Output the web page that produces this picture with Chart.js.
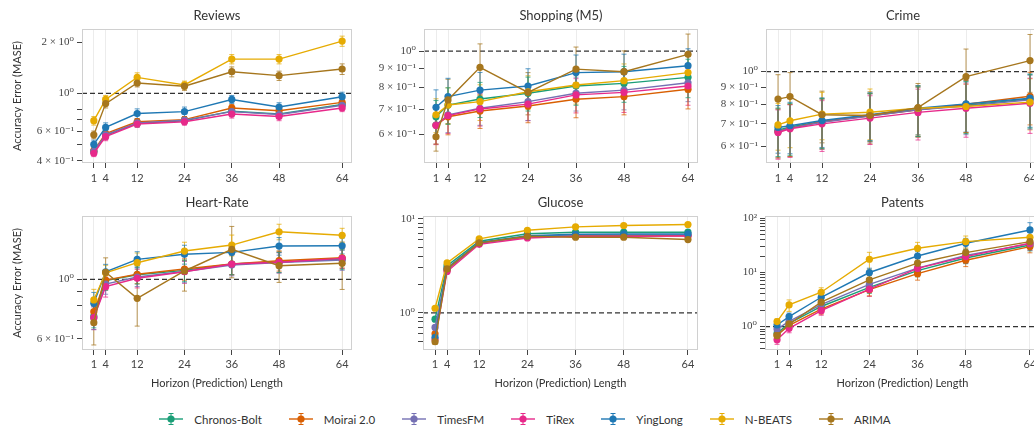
<!DOCTYPE html>
<html>
<head>
<meta charset="utf-8">
<script src="https://cdn.jsdelivr.net/npm/chart.js@4.4.1/dist/chart.umd.min.js"></script>
<style>
  html, body { margin: 0; padding: 0; background: #fff; width: 1034px; height: 428px; overflow: hidden; }
  .panel { position: absolute; }
  #legend { position: absolute; left: 0; top: 412px; width: 1050px; display: flex; justify-content: center; gap: 27px;
            font-family: Lato, "Open Sans", sans-serif; font-size: 11.5px; color: #333; }
  .item { display: flex; align-items: center; gap: 11px; }
</style>
</head>
<body>
<div class="panel" style="left:0;top:0"><canvas id="c0" width="356" height="190"></canvas></div>
<div class="panel" style="left:356px;top:0"><canvas id="c1" width="346" height="190"></canvas></div>
<div class="panel" style="left:702px;top:0"><canvas id="c2" width="342" height="190"></canvas></div>
<div class="panel" style="left:0;top:190px"><canvas id="c3" width="356" height="205"></canvas></div>
<div class="panel" style="left:356px;top:190px"><canvas id="c4" width="346" height="205"></canvas></div>
<div class="panel" style="left:702px;top:190px"><canvas id="c5" width="342" height="205"></canvas></div>
<div id="legend"></div>

<script>
const horizons = [1, 4, 12, 24, 36, 48, 64];
const models = ["Chronos-Bolt", "Moirai 2.0", "TimesFM", "TiRex", "YingLong", "N-BEATS", "ARIMA"];
const modelColors = ["#1b9e77", "#d95f02", "#7570b3", "#e7298a", "#1f78b4", "#e6ab02", "#a6761d"];

// MASE per model (rows follow models), one row per horizon list
const reviewsMase = [
  [0.455, 0.565, 0.665, 0.69, 0.785, 0.755, 0.86],
  [0.46, 0.58, 0.68, 0.70, 0.82, 0.79, 0.885],
  [0.455, 0.57, 0.67, 0.695, 0.78, 0.75, 0.85],
  [0.444, 0.556, 0.66, 0.68, 0.755, 0.73, 0.82],
  [0.50, 0.63, 0.76, 0.78, 0.92, 0.83, 0.955],
  [0.69, 0.92, 1.24, 1.12, 1.59, 1.59, 2.03],
  [0.57, 0.87, 1.15, 1.10, 1.34, 1.27, 1.39]
];
const reviewsErr = [
  [0.02, 0.03, 0.03, 0.03, 0.04, 0.04, 0.04],
  [0.02, 0.03, 0.03, 0.03, 0.04, 0.04, 0.04],
  [0.02, 0.03, 0.03, 0.03, 0.04, 0.04, 0.04],
  [0.02, 0.03, 0.03, 0.03, 0.04, 0.04, 0.04],
  [0.03, 0.04, 0.05, 0.05, 0.05, 0.05, 0.06],
  [0.04, 0.05, 0.08, 0.06, 0.10, 0.10, 0.14],
  [0.03, 0.05, 0.06, 0.06, 0.09, 0.08, 0.10]
];

const shoppingMase = [
  [0.668, 0.718, 0.745, 0.772, 0.807, 0.820, 0.851],
  [0.635, 0.668, 0.692, 0.714, 0.744, 0.756, 0.791],
  [0.635, 0.676, 0.704, 0.733, 0.772, 0.787, 0.823],
  [0.633, 0.673, 0.701, 0.722, 0.764, 0.776, 0.807],
  [0.708, 0.756, 0.787, 0.807, 0.876, 0.881, 0.914],
  [0.676, 0.718, 0.733, 0.779, 0.812, 0.834, 0.876],
  [0.591, 0.741, 0.905, 0.776, 0.895, 0.881, 0.98]
];
const shoppingErr = [
  [0.07, 0.08, 0.08, 0.08, 0.09, 0.09, 0.10],
  [0.07, 0.07, 0.07, 0.07, 0.08, 0.08, 0.09],
  [0.07, 0.07, 0.07, 0.08, 0.08, 0.09, 0.09],
  [0.07, 0.07, 0.07, 0.07, 0.08, 0.09, 0.09],
  [0.08, 0.09, 0.09, 0.09, 0.10, 0.10, 0.10],
  [0.07, 0.08, 0.08, 0.08, 0.09, 0.09, 0.10],
  [0.05, 0.10, 0.14, 0.10, 0.13, 0.12, 0.13]
];

const crimeMase = [
  [0.67, 0.685, 0.712, 0.742, 0.772, 0.795, 0.83],
  [0.665, 0.68, 0.71, 0.74, 0.77, 0.80, 0.845],
  [0.665, 0.68, 0.708, 0.738, 0.77, 0.79, 0.825],
  [0.66, 0.677, 0.70, 0.728, 0.757, 0.779, 0.806],
  [0.683, 0.691, 0.716, 0.745, 0.779, 0.802, 0.834],
  [0.695, 0.715, 0.748, 0.758, 0.779, 0.788, 0.812],
  [0.829, 0.843, 0.745, 0.741, 0.782, 0.966, 1.078]
];
const crimeErr = [
  [0.11, 0.12, 0.12, 0.12, 0.13, 0.14, 0.15],
  [0.11, 0.12, 0.12, 0.12, 0.13, 0.14, 0.15],
  [0.11, 0.12, 0.12, 0.12, 0.13, 0.14, 0.15],
  [0.11, 0.12, 0.12, 0.12, 0.13, 0.14, 0.15],
  [0.11, 0.12, 0.12, 0.12, 0.13, 0.14, 0.15],
  [0.11, 0.12, 0.12, 0.13, 0.13, 0.13, 0.14],
  [0.15, 0.15, 0.13, 0.13, 0.14, 0.20, 0.21]
];

const heartMase = [
  [0.73, 0.99, 1.04, 1.08, 1.14, 1.16, 1.19],
  [0.758, 0.994, 1.044, 1.092, 1.14, 1.173, 1.203],
  [0.72, 0.96, 1.02, 1.07, 1.13, 1.155, 1.18],
  [0.72, 0.939, 1.009, 1.067, 1.14, 1.157, 1.197],
  [0.814, 1.067, 1.187, 1.239, 1.26, 1.33, 1.333],
  [0.838, 1.058, 1.153, 1.274, 1.341, 1.503, 1.458],
  [0.69, 1.062, 0.85, 1.074, 1.293, 1.124, 1.147]
];
const heartErr = [
  [0.07, 0.08, 0.08, 0.10, 0.10, 0.10, 0.10],
  [0.07, 0.08, 0.08, 0.10, 0.10, 0.10, 0.10],
  [0.07, 0.08, 0.08, 0.10, 0.10, 0.10, 0.10],
  [0.07, 0.08, 0.08, 0.10, 0.10, 0.10, 0.10],
  [0.08, 0.07, 0.08, 0.10, 0.10, 0.10, 0.09],
  [0.08, 0.07, 0.10, 0.10, 0.12, 0.10, 0.09],
  [0.12, 0.14, 0.18, 0.17, 0.28, 0.15, 0.23]
];

const glucoseMase = [
  [0.857, 3.17, 5.77, 6.92, 7.2, 7.2, 7.2],
  [0.60, 2.85, 5.5, 6.4, 6.6, 6.6, 6.6],
  [0.70, 2.9, 5.5, 6.5, 6.75, 6.75, 6.75],
  [0.52, 2.75, 5.35, 6.25, 6.5, 6.5, 6.55],
  [0.55, 3.0, 5.6, 6.6, 6.85, 6.9, 6.9],
  [1.12, 3.39, 6.11, 7.55, 8.2, 8.48, 8.69],
  [0.494, 2.93, 5.54, 6.52, 6.37, 6.37, 6.01]
];
const glucoseErr = [
  [0.03, 0.08, 0.10, 0.10, 0.10, 0.10, 0.10],
  [0.03, 0.08, 0.10, 0.10, 0.10, 0.10, 0.10],
  [0.03, 0.08, 0.10, 0.10, 0.10, 0.10, 0.10],
  [0.03, 0.08, 0.10, 0.10, 0.10, 0.10, 0.10],
  [0.03, 0.08, 0.10, 0.10, 0.10, 0.10, 0.10],
  [0.03, 0.08, 0.10, 0.10, 0.10, 0.10, 0.10],
  [0.03, 0.08, 0.10, 0.10, 0.10, 0.10, 0.10]
];

const patentsMase = [
  [0.75, 1.15, 2.35, 5.3, 10.8, 18.5, 32],
  [0.70, 1.05, 2.1, 4.8, 9.5, 16.8, 30],
  [0.90, 1.25, 2.55, 6.0, 12.0, 20.5, 34],
  [0.57, 0.93, 1.97, 4.9, 11.9, 19.6, 34.5],
  [1.07, 1.53, 3.48, 9.96, 20.1, 34.5, 60.8],
  [1.24, 2.51, 4.31, 17.5, 27.9, 37, 44.6],
  [0.68, 1.12, 2.82, 7.27, 14.8, 23.2, 37]
];
const patentsErr = [
  [0.12, 0.2, 0.4, 1.2, 2.5, 4, 7],
  [0.12, 0.2, 0.4, 1.1, 2.3, 4, 7],
  [0.14, 0.2, 0.4, 1.3, 2.6, 4.5, 7],
  [0.10, 0.16, 0.35, 1.3, 3, 5, 9],
  [0.15, 0.25, 0.5, 2, 4, 8, 22],
  [0.15, 0.6, 0.9, 6, 8, 10, 10],
  [0.10, 0.2, 0.4, 1.5, 3, 5, 8]
];

// y tick values and labels (labelled) plus unlabelled minor marks
const reviewsTicks = [2, 1, 0.6, 0.4];
const reviewsTickLabels = ["2 × 10⁰", "10⁰", "6 × 10⁻¹", "4 × 10⁻¹"];
const reviewsMinor = [0.5, 0.7, 0.8];
const decTicks = [1, 0.9, 0.8, 0.7, 0.6];
const decTickLabels = ["10⁰", "9 × 10⁻¹", "8 × 10⁻¹", "7 × 10⁻¹", "6 × 10⁻¹"];
const heartTicks = [1, 0.6];
const heartTickLabels = ["10⁰", "6 × 10⁻¹"];
const heartMinor = [0.7, 0.8, 0.9];
const glucoseTicks = [10, 1];
const glucoseTickLabels = ["10¹", "10⁰"];
const glucoseMinor = [0.5, 0.6, 0.7, 0.8, 0.9, 2, 3, 4, 5, 6, 7, 8, 9];
const patentsTicks = [100, 10, 1];
const patentsTickLabels = ["10²", "10¹", "10⁰"];
const patentsMinor = [0.4, 0.5, 0.6, 0.7, 0.8, 0.9, 2, 3, 4, 5, 6, 7, 8, 9, 20, 30, 40, 50, 60, 70, 80, 90];

const SANS = "Lato, 'Open Sans', sans-serif";
const SERIF = "'Liberation Serif', 'DejaVu Serif', serif";

const panels = [
  { id: "c0", title: "Reviews", mase: reviewsMase, err: reviewsErr, min: 0.389, max: 2.39,
    ticks: reviewsTicks, labels: reviewsTickLabels, minor: reviewsMinor, yW: 82, row: 0, yTitle: true },
  { id: "c1", title: "Shopping (M5)", mase: shoppingMase, err: shoppingErr, min: 0.503, max: 1.145,
    ticks: decTicks, labels: decTickLabels, minor: [], yW: 68, row: 0 },
  { id: "c2", title: "Crime", mase: crimeMase, err: crimeErr, min: 0.536, max: 1.337,
    ticks: decTicks, labels: decTickLabels, minor: [], yW: 64, row: 0 },
  { id: "c3", title: "Heart-Rate", mase: heartMase, err: heartErr, min: 0.546, max: 1.72,
    ticks: heartTicks, labels: heartTickLabels, minor: heartMinor, yW: 82, row: 1, yTitle: true },
  { id: "c4", title: "Glucose", mase: glucoseMase, err: glucoseErr, min: 0.403, max: 10.7,
    ticks: glucoseTicks, labels: glucoseTickLabels, minor: glucoseMinor, yW: 67, row: 1 },
  { id: "c5", title: "Patents", mase: patentsMase, err: patentsErr, min: 0.37, max: 110,
    ticks: patentsTicks, labels: patentsTickLabels, minor: patentsMinor, yW: 63, row: 1 }
];

// dashed reference line, error bars and the box around each plot
const extras = {
  id: "extras",
  beforeDatasetsDraw(chart) {
    const { ctx, chartArea: a, scales: { x, y } } = chart;
    ctx.save();
    ctx.beginPath();
    ctx.rect(a.left, a.top, a.right - a.left, a.bottom - a.top);
    ctx.clip();

    const yy = y.getPixelForValue(1);
    ctx.strokeStyle = "#333";
    ctx.lineWidth = 1.3;
    ctx.setLineDash([5, 3]);
    ctx.beginPath();
    ctx.moveTo(a.left, yy);
    ctx.lineTo(a.right, yy);
    ctx.stroke();
    ctx.setLineDash([]);

    for (let i = chart.data.datasets.length - 1; i >= 0; i--) {
      const ds = chart.data.datasets[i];
      ctx.strokeStyle = ds.borderColor;
      ctx.globalAlpha = 0.75;
      ctx.lineWidth = 1;
      ds.data.forEach((p, j) => {
        const e = ds.err[j];
        const px = x.getPixelForValue(p.x);
        const lo = y.getPixelForValue(Math.max(p.y - e, 1e-3));
        const hi = y.getPixelForValue(p.y + e);
        ctx.beginPath();
        ctx.moveTo(px, lo); ctx.lineTo(px, hi);
        ctx.moveTo(px - 2.5, lo); ctx.lineTo(px + 2.5, lo);
        ctx.moveTo(px - 2.5, hi); ctx.lineTo(px + 2.5, hi);
        ctx.stroke();
      });
    }
    ctx.restore();
  },
  afterDraw(chart) {
    const { ctx, chartArea: a } = chart;
    ctx.save();
    ctx.strokeStyle = "#d0d0d0";
    ctx.lineWidth = 1;
    ctx.strokeRect(Math.round(a.left) + 0.5, Math.round(a.top) + 0.5,
      Math.round(a.right - a.left) - 1, Math.round(a.bottom - a.top) - 1);
    ctx.restore();
  }
};

function makeDatasets(values, errs) {
  return models.map((name, i) => ({
    label: name,
    data: horizons.map((h, j) => ({ x: h, y: values[i][j] })),
    err: errs[i],
    borderColor: modelColors[i],
    backgroundColor: modelColors[i],
    borderWidth: 1.4,
    pointRadius: 3.6,
    pointHoverRadius: 3.6,
    pointBorderWidth: 0,
    tension: 0,
    order: models.length - i
  }));
}

function drawPanel(p) {
  const el = document.getElementById(p.id);
  const tickVals = p.ticks.concat(p.minor);
  const row2 = p.row === 1;

  new Chart(el.getContext("2d"), {
    type: "line",
    data: { datasets: makeDatasets(p.mase, p.err) },
    options: {
      responsive: false,
      animation: false,
      layout: { padding: { left: 0, right: 4, top: 0, bottom: 0 } },
      plugins: {
        legend: { display: false },
        tooltip: { enabled: false },
        title: {
          display: true,
          fullSize: false,
          text: p.title,
          color: "#333",
          font: { family: SANS, size: 13, weight: "normal" },
          padding: row2 ? { top: 5, bottom: 5.4 } : { top: 8, bottom: 5.4 }
        }
      },
      scales: {
        x: {
          type: "linear",
          min: -2,
          max: 66.5,
          afterBuildTicks: s => { s.ticks = horizons.map(v => ({ value: v })); },
          afterFit: s => { s.height = row2 ? 45 : 27; },
          ticks: { color: "#444", font: { family: SANS, size: 11 }, padding: row2 ? 3 : 4, maxRotation: 0, autoSkip: false,
                   callback: v => String(v) },
          grid: { color: "#ececec", tickColor: "#444", tickLength: 5, lineWidth: 1 },
          border: { display: false },
          title: { display: row2, text: "Horizon (Prediction) Length", color: "#333",
                   font: { family: SANS, size: 11 }, padding: { top: 0, bottom: 5 } }
        },
        y: {
          type: "logarithmic",
          min: p.min,
          max: p.max,
          afterBuildTicks: s => { s.ticks = tickVals.map(v => ({ value: v })); },
          afterFit: s => { s.width = p.yW; },
          ticks: {
            color: "#444",
            font: { family: SERIF, size: 11 },
            padding: 3,
            autoSkip: false,
            callback: v => {
              const k = p.ticks.findIndex(t => Math.abs(t - v) < 1e-9);
              return k >= 0 ? p.labels[k] : "";
            }
          },
          grid: { drawOnChartArea: false, tickColor: "#444", tickLength: 5 },
          border: { display: false },
          title: { display: !!p.yTitle, text: "Accuracy Error (MASE)", color: "#333",
                   font: { family: SANS, size: 11 }, padding: { top: 11, bottom: 0 } }
        }
      }
    },
    plugins: [extras]
  });
}

panels.forEach(drawPanel);

// legend: line, dot and error bar like the markers in the plots
const legend = document.getElementById("legend");
models.forEach((name, i) => {
  const c = modelColors[i];
  const item = document.createElement("div");
  item.className = "item";
  item.innerHTML =
    `<svg width="24" height="14"><line x1="0" y1="7" x2="24" y2="7" stroke="${c}" stroke-width="1.4"/>` +
    `<line x1="12" y1="1.5" x2="12" y2="12.5" stroke="${c}" stroke-width="1"/>` +
    `<line x1="9.5" y1="1.5" x2="14.5" y2="1.5" stroke="${c}" stroke-width="1"/>` +
    `<line x1="9.5" y1="12.5" x2="14.5" y2="12.5" stroke="${c}" stroke-width="1"/>` +
    `<circle cx="12" cy="7" r="3.6" fill="${c}"/></svg><span>${name}</span>`;
  legend.appendChild(item);
});
</script>
</body>
</html>
